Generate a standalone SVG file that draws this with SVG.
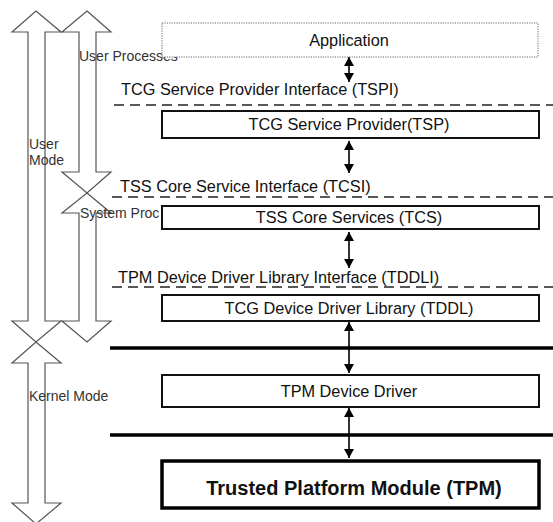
<svg xmlns="http://www.w3.org/2000/svg" width="553" height="522" viewBox="0 0 553 522">
<style>
.mode{fill:#fff;stroke:#555;stroke-width:1.2}
.side{font-family:"Liberation Sans",Arial,sans-serif;font-size:14px;fill:#333}
.lbl{font-family:"Liberation Sans",Arial,sans-serif;font-size:16.3px;fill:#111}
.box{fill:#fff;stroke:#111;stroke-width:2}
.dash{stroke:#222;stroke-width:1.5;stroke-dasharray:10 6;fill:none}
.thick{stroke:#000;stroke-width:3.5}
.conn{stroke:#000;stroke-width:1.6;fill:none;marker-start:url(#ah);marker-end:url(#ah)}
</style>
<defs>
<marker id="ah" markerUnits="userSpaceOnUse" viewBox="0 0 9 10" refX="9" refY="5" markerWidth="9" markerHeight="10" orient="auto-start-reverse">
<path d="M0,0 L9,5 L0,10 z" fill="#000"/>
</marker>
</defs>
<rect width="553" height="522" fill="#fff"/>
<g id="mode-arrows">
<polygon class="mode" points="36,11 61,32 45,32 45,321 61,321 36,342 12,321 28,321 28,32 12,32"/>
<polygon class="mode" points="87,11 111,32 96,32 96,172 111,172 87,193 62,172 79,172 79,32 62,32"/>
<polygon class="mode" points="87,193 111,213 96,213 96,321 111,321 87,342 62,321 79,321 79,213 62,213"/>
<polygon class="mode" points="36,342 61,363 45,363 45,503 61,503 36,524 12,503 28,503 28,363 12,363"/>
</g>
<g id="side-labels">
<text class="side" x="79" y="60.5">User Processes</text>
<text class="side" x="29" y="149" font-size="13.5">User</text>
<text class="side" x="29" y="165" font-size="13.5">Mode</text>
<text class="side" x="80" y="218">System Proc</text>
<text class="side" x="29" y="401">Kernel Mode</text>
</g>
<g id="interfaces">
<line class="dash" x1="114" y1="105" x2="553" y2="105"/>
<text class="lbl" x="121" y="95">TCG Service Provider Interface (TSPI)</text>
<line class="dash" x1="112" y1="197" x2="553" y2="197"/>
<text class="lbl" x="120" y="192">TSS Core Service Interface (TCSI)</text>
<line class="dash" x1="112" y1="287" x2="553" y2="287"/>
<text class="lbl" x="118" y="283">TPM Device Driver Library Interface (TDDLI)</text>
<line class="thick" x1="110" y1="348" x2="553" y2="348"/>
<line class="thick" x1="110" y1="435" x2="553" y2="435"/>
</g>
<g id="connectors">
<line class="conn" x1="349" y1="57" x2="349" y2="82"/>
<line class="conn" x1="349" y1="141" x2="349" y2="173"/>
<line class="conn" x1="349" y1="232" x2="349" y2="268"/>
<line class="conn" x1="349" y1="322" x2="349" y2="373"/>
<line class="conn" x1="349" y1="408" x2="349" y2="458"/>
</g>
<g id="application">
<rect x="162" y="23" width="376" height="34" fill="#fff" stroke="#666" stroke-width="1" stroke-dasharray="1.2 1.2"/>
<text class="lbl" x="349" y="46" text-anchor="middle">Application</text>
</g>
<g id="tsp">
<rect class="box" x="162" y="111" width="377" height="27"/>
<text class="lbl" x="349" y="130" text-anchor="middle">TCG Service Provider(TSP)</text>
</g>
<g id="tcs">
<rect class="box" x="162" y="206" width="377" height="23"/>
<text class="lbl" x="349" y="223" text-anchor="middle">TSS Core Services (TCS)</text>
</g>
<g id="tddl">
<rect class="box" x="162" y="295" width="377" height="26"/>
<text class="lbl" x="349" y="314" text-anchor="middle">TCG Device Driver Library (TDDL)</text>
</g>
<g id="tpm-dd">
<rect class="box" x="162" y="375" width="377" height="32"/>
<text class="lbl" x="349" y="397" text-anchor="middle">TPM Device Driver</text>
</g>
<g id="tpm">
<rect x="162" y="461" width="377" height="47" fill="#fff" stroke="#000" stroke-width="3.5"/>
<text x="354" y="495" text-anchor="middle" font-family="'Liberation Sans',Arial,sans-serif" font-size="20" font-weight="bold" fill="#111">Trusted Platform Module (TPM)</text>
</g>
</svg>
